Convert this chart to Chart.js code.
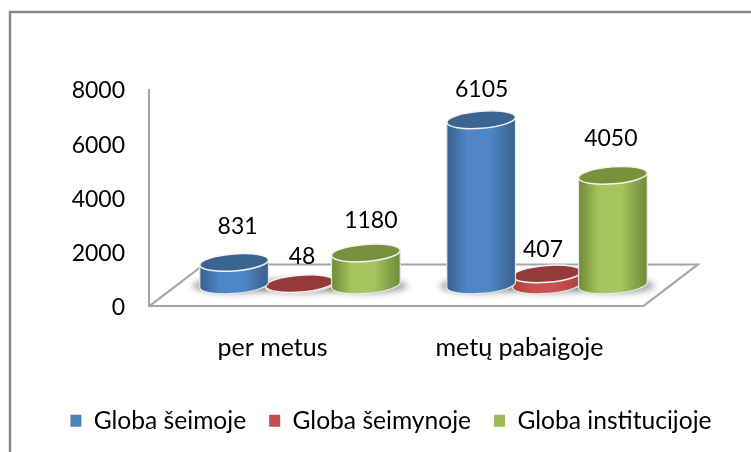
<!DOCTYPE html>
<html><head><meta charset="utf-8">
<style>html,body{margin:0;padding:0;background:#fff}canvas{display:block}</style>
<script src="https://cdn.jsdelivr.net/npm/chart.js@4"></script>
</head><body><canvas id="c" width="751" height="452"></canvas>
<script>
const categories = ['per metus', 'metų pabaigoje'];
const seimoje = [831, 6105];
const seimynoje = [48, 407];
const institucijoje = [1180, 4050];
const seriesNames = ['Globa šeimoje', 'Globa šeimynoje', 'Globa institucijoje'];
const yTicks = [0, 2000, 4000, 6000, 8000];
const labelNudges = [[[3.5,-36],[0.5,-30]], [[2,-27],[-4,-24]], [[5,-32],[-2,-37]]];
const palette = [
 {base:'#4f81bd', top:'#3b6491', edge:'#38608c', mid:'#4f86c8'},
 {base:'#c0504d', top:'#943a38', edge:'#a54240', mid:'#ca514f'},
 {base:'#9bbb59', top:'#77913f', edge:'#6d8a38', mid:'#a4c65e'}
];
const FONT = 'Lato, Carlito, sans-serif';
const DX = 27.5, DY = -21.5, RY = 8.5, TILT = -4.5*Math.PI/180;
const drawOrder = [1, 0, 2];

function cylinder(ctx, el, c){
  const cx = el.x + DX, top = el.y + DY, bot = el.base + DY, rx = el.width/2 + 1.5;
  const s = rx*Math.sin(TILT), k = rx*Math.cos(TILT);
  const g = ctx.createLinearGradient(cx-k,0,cx+k,0);
  g.addColorStop(0,c.edge); g.addColorStop(.3,c.mid); g.addColorStop(.62,c.mid); g.addColorStop(1,c.edge);
  ctx.save();
  ctx.beginPath();
  ctx.moveTo(cx-k, top-s);
  ctx.lineTo(cx-k, bot-s);
  ctx.ellipse(cx, bot, rx, RY, TILT, Math.PI, 0, true);
  ctx.lineTo(cx+k, top+s);
  ctx.closePath();
  ctx.fillStyle = g; ctx.fill();
  ctx.strokeStyle = 'rgba(235,235,235,.95)'; ctx.lineWidth = 1.2; ctx.stroke();
  ctx.beginPath();
  ctx.ellipse(cx, top, rx, RY, TILT, 0, Math.PI*2);
  ctx.fillStyle = c.top; ctx.fill();
  ctx.strokeStyle = '#f4f4f4'; ctx.lineWidth = 1.5; ctx.stroke();
  ctx.restore();
}

const depthPlugin = {
  id:'depth',
  afterLayout(chart){
    chart.legend.left += 15.5; chart.legend.right += 15.5;
  },
  beforeDraw(chart){
    const ctx = chart.ctx;
    ctx.save();
    ctx.fillStyle='#fff'; ctx.fillRect(0,0,chart.width,chart.height);
    ctx.strokeStyle='#868686'; ctx.lineWidth=2.4;
    ctx.beginPath(); ctx.moveTo(10,chart.height); ctx.lineTo(10,12); ctx.lineTo(chart.width,12); ctx.stroke();
    ctx.restore();
  },
  beforeDatasetsDraw(chart){
    const ctx = chart.ctx, a = chart.chartArea, fdx = DX*2, fdy = -42;
    ctx.save();
    ctx.strokeStyle='#a6a6a6'; ctx.lineWidth=2;
    ctx.beginPath();
    ctx.moveTo(a.left,a.bottom); ctx.lineTo(a.left+fdx,a.bottom+fdy); ctx.lineTo(a.right+fdx,a.bottom+fdy); ctx.lineTo(a.right,a.bottom);
    ctx.stroke();
    chart.data.datasets.forEach((d,i)=>{
      chart.getDatasetMeta(i).data.forEach(el=>{
        const cx = el.x+DX, y = el.base+DY+1;
        ctx.save();
        ctx.filter='blur(3px)';
        ctx.fillStyle='rgba(90,90,90,.55)';
        ctx.beginPath(); ctx.ellipse(cx,y,el.width/2+9,RY-1,0,0,Math.PI*2); ctx.fill();
        ctx.restore();
      });
    });
    ctx.restore();
    drawOrder.forEach(i=>chart.getDatasetMeta(i).data.forEach(el=>cylinder(ctx,el,palette[i])));
  },
  beforeDatasetDraw(){ return false; },
  afterDatasetsDraw(chart){
    const ctx = chart.ctx;
    ctx.save();
    ctx.font = '23px '+FONT; ctx.fillStyle='#000'; ctx.textAlign='center'; ctx.textBaseline='middle';
    chart.data.datasets.forEach((d,i)=>{
      chart.getDatasetMeta(i).data.forEach((el,j)=>{
        const n = labelNudges[i][j];
        ctx.fillText(String(d.data[j]), el.x+DX+n[0], el.y+DY+n[1]);
      });
    });
    ctx.restore();
  }
};

const allSeries = [seimoje, seimynoje, institucijoje];
new Chart(document.getElementById('c'), {
  type:'bar',
  data:{labels:categories, datasets:allSeries.map((v,i)=>({
    label:seriesNames[i], data:v, backgroundColor:palette[i].base,
    categoryPercentage:.8, barPercentage:1
  }))},
  options:{
    responsive:false, animation:false,
    layout:{padding:{top:90,right:0,bottom:9,left:0}},
    scales:{
      x:{grid:{display:false,drawTicks:false},border:{display:true,color:'#a6a6a6',width:2},
         ticks:{color:'#000',font:{family:FONT,size:25},padding:27,maxRotation:0},
         afterFit(s){s.height=79;}},
      y:{min:0,max:8000,grid:{display:false,drawTicks:false},border:{display:true,color:'#a6a6a6',width:2},
         afterBuildTicks(s){s.ticks=yTicks.map(v=>({value:v}));},
         ticks:{color:'#000',font:{family:FONT,size:23},padding:24,labelOffset:1,callback:v=>String(v)},
         afterFit(s){s.width=149;}},
      spacer:{axis:'y',position:'right',grid:{display:false,drawTicks:false},border:{display:false},
         ticks:{display:false},afterFit(s){s.width=108;}}
    },
    plugins:{
      legend:{position:'bottom',labels:{color:'#000',font:{family:FONT,size:24.6},boxWidth:11,boxHeight:12,padding:23}},
      tooltip:{enabled:false}
    }
  },
  plugins:[depthPlugin]
});
</script></body></html>
